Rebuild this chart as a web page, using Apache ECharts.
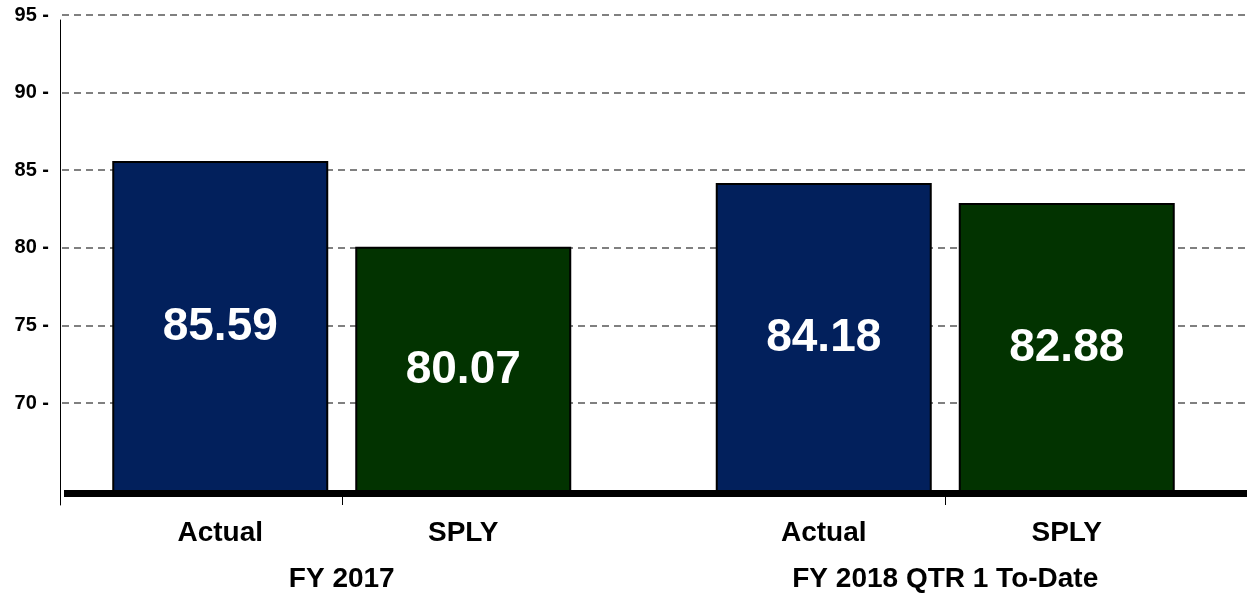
<!DOCTYPE html>
<html>
<head>
<meta charset="utf-8">
<script src="https://cdn.jsdelivr.net/npm/echarts@6/dist/echarts.min.js"></script>
<style>
html,body{margin:0;padding:0;background:#fff;}
#chart{width:1247px;height:595px;}
</style>
</head>
<body>
<div id="chart"></div>
<script>
const categories = ['FY 2017', 'FY 2018 QTR 1 To-Date'];
const seriesNames = ['Actual', 'SPLY'];
const actualValues = [85.59, 84.18];
const splyValues = [80.07, 82.88];
const yMin = 70, yMax = 95, yStep = 5;
const barAxisMin = 64.2;

const FONT = "'Liberation Sans', Arial, sans-serif";
const chart = echarts.init(document.getElementById('chart'));

const barLabel = {
  show: true, position: 'inside', color: '#ffffff', fontSize: 46,
  fontWeight: 'bold', fontFamily: FONT,
  formatter: p => p.value.toFixed(2)
};

chart.setOption({
  animation: false,
  backgroundColor: '#ffffff',
  grid: [
    { left: 62, right: 0, top: 15, bottom: 192 },
    { left: 40, right: 0, top: 15, bottom: 102 },
    { left: 64, right: 0, top: 15, bottom: 102 },
    { left: 60, right: 0, top: 20, bottom: 90 }
  ],
  xAxis: [
    { gridIndex: 0, type: 'value', min: 0, max: 1, show: false },
    {
      gridIndex: 1, type: 'category', data: categories,
      axisLine: { show: false },
      axisTick: { show: true, alignWithLabel: true, length: 12, lineStyle: { color: '#000', width: 1 } },
      axisLabel: {
        margin: 20, color: '#000', fontFamily: FONT, fontWeight: 'bold',
        formatter: v => `{s|${seriesNames[0]}}{s|${seriesNames[1]}}\n{g|${v}}`,
        rich: {
          s: { width: 243, align: 'center', fontSize: 28, fontWeight: 'bold', fontFamily: FONT, color: '#000', lineHeight: 40 },
          g: { fontSize: 28, fontWeight: 'bold', fontFamily: FONT, color: '#000', lineHeight: 52 }
        }
      },
      splitLine: { show: false }
    },
    {
      gridIndex: 2, type: 'value', min: 0, max: 1, z: 10,
      axisLine: { show: true, lineStyle: { color: '#000', width: 7, cap: 'butt' } },
      axisTick: { show: false }, axisLabel: { show: false }, splitLine: { show: false }
    },
    { gridIndex: 3, type: 'value', min: 0, max: 1, show: false }
  ],
  yAxis: [
    {
      gridIndex: 0, type: 'value', min: yMin, max: yMax, interval: yStep,
      axisLine: { show: false }, axisTick: { show: false },
      axisLabel: { margin: 13, color: '#000', fontSize: 20, fontWeight: 'bold', fontFamily: FONT, formatter: '{value} -' },
      splitLine: { show: true, lineStyle: { color: '#808080', width: 2, type: [7, 5] } }
    },
    { gridIndex: 1, type: 'value', min: barAxisMin, max: yMax, show: false },
    { gridIndex: 2, type: 'value', min: 0, max: 1, show: false },
    {
      gridIndex: 3, type: 'value', min: 0, max: 1,
      axisLine: { show: true, lineStyle: { color: '#000', width: 1 } },
      axisTick: { show: false }, axisLabel: { show: false }, splitLine: { show: false }
    }
  ],
  series: [
    {
      name: seriesNames[0], type: 'bar', xAxisIndex: 1, yAxisIndex: 1,
      data: actualValues, barWidth: 216, barGap: '12.5%',
      itemStyle: { color: '#02205c', borderColor: '#000', borderWidth: 2 },
      label: barLabel
    },
    {
      name: seriesNames[1], type: 'bar', xAxisIndex: 1, yAxisIndex: 1,
      data: splyValues, barWidth: 216, barGap: '12.5%',
      itemStyle: { color: '#023300', borderColor: '#000', borderWidth: 2 },
      label: barLabel
    }
  ]
});
</script>
</body>
</html>
